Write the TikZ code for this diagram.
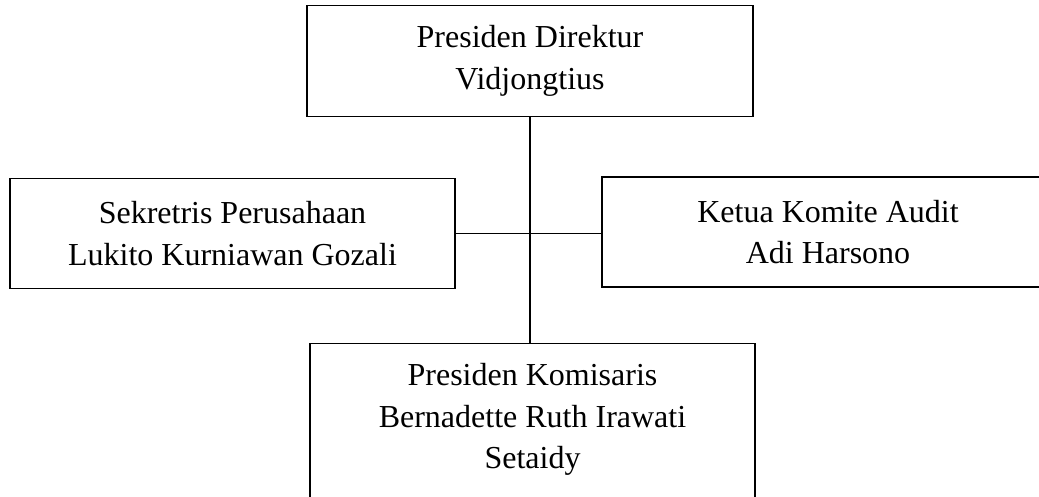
\documentclass[tikz,border=0pt]{standalone}
\usepackage{fontspec}
\setmainfont{Liberation Serif}

\begin{document}
\begin{tikzpicture}[x=1pt,y=1pt,
    box/.style={draw,line width=0.7pt,align=center,anchor=north,
      inner xsep=0pt,inner ysep=10pt,minimum width=223pt,minimum height=55pt,
      font=\fontsize{16}{20.75}\selectfont}]
          \clip (0,0) rectangle (519.5,-248.5);
          \node[box] (PD) at (265,-2.5) {Presiden Direktur\\Vidjongtius};
          \node[box,minimum width=222.5pt] (SP) at (116.25,-89) {Sekretris Perusahaan\\Lukito Kurniawan Gozali};
          \node[box,minimum width=226pt] (KA) at (414,-88.25) {Ketua Komite Audit\\Adi Harsono};
          \node[box,minimum width=222.5pt,text depth=60pt] (PK) at (266.25,-171.5) {Presiden Komisaris\\Bernadette Ruth Irawati\\Setaidy};
          \draw[line width=1pt] (PD.south) to (PD.south |- PK.north);
          \draw[line width=0.7pt] (SP.east) to (SP.east -| KA.west);
        \end{tikzpicture}
\end{document}
